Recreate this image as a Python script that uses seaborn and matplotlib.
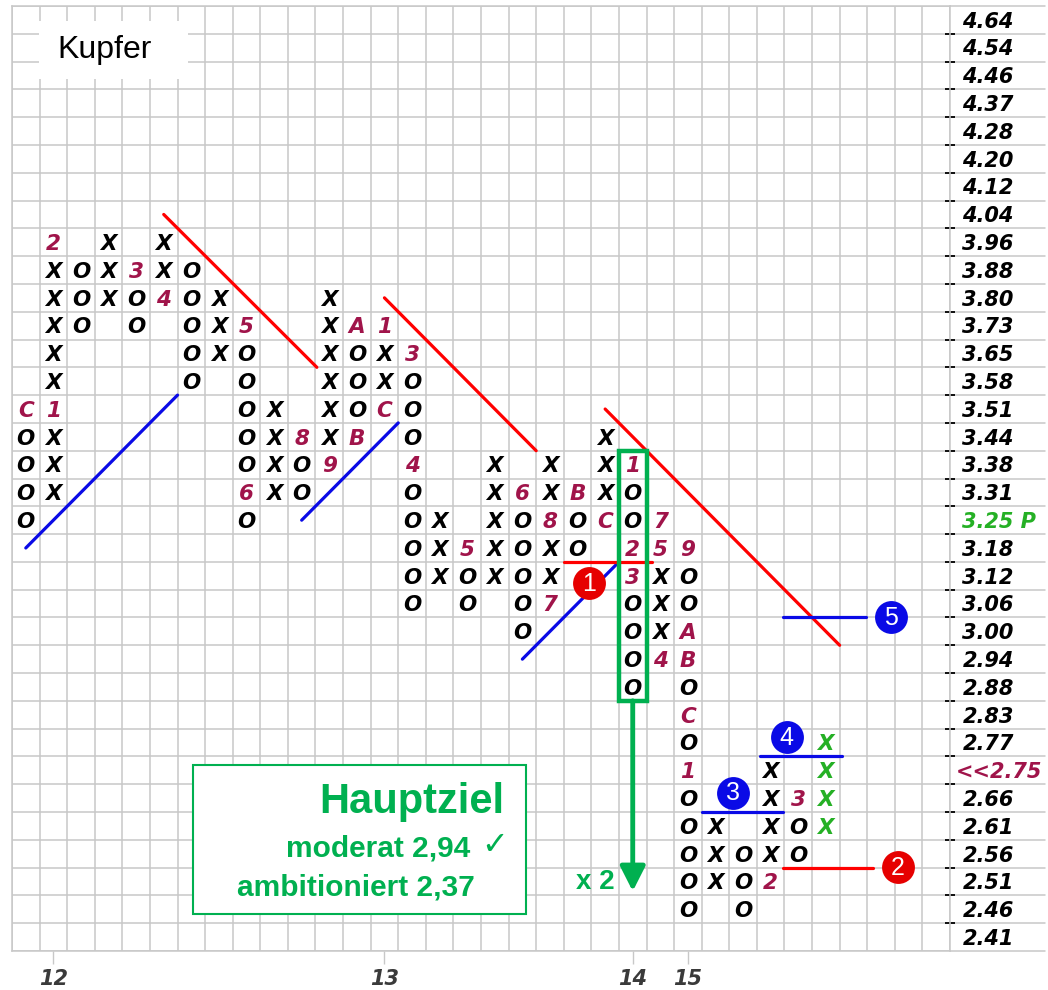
import matplotlib
matplotlib.use("Agg")
import matplotlib.pyplot as plt
import seaborn as sns
import numpy as np
import pandas as pd
from matplotlib.patches import Rectangle

# ---------------- data ----------------
price_labels = ['4.64', '4.54', '4.46', '4.37', '4.28', '4.20', '4.12', '4.04',
                '3.96', '3.88', '3.80', '3.73', '3.65', '3.58', '3.51', '3.44',
                '3.38', '3.31', '3.25 P', '3.18', '3.12', '3.06', '3.00', '2.94',
                '2.88', '2.83', '2.77', '<<2.75', '2.66', '2.61', '2.56', '2.51',
                '2.46', '2.41']

# point & figure columns: type, top row index, bottom row index (row 0 = 4.64)
col_type = ['O', 'X', 'O', 'X', 'O', 'X', 'O', 'X', 'O', 'X', 'O', 'X', 'O', 'X', 'O',
            'X', 'O', 'X', 'O', 'X', 'O', 'X', 'O', 'X', 'O', 'X', 'O', 'X', 'O', 'X']
col_top = [14, 8, 9, 8, 9, 8, 9, 10, 11, 14, 15, 10, 11, 11, 12,
           18, 19, 16, 17, 16, 17, 15, 16, 18, 19, 29, 30, 27, 28, 26]
col_bottom = [18, 17, 11, 10, 11, 10, 13, 12, 18, 17, 17, 16, 15, 14, 21,
              20, 21, 20, 22, 21, 19, 18, 24, 23, 32, 31, 32, 31, 30, 29]
green_col = 29

# month markers replacing boxes
month_col = [0, 1, 1, 4, 5, 8, 8, 10, 11, 12, 12, 13, 13, 14, 14, 16, 18, 19, 19,
             20, 21, 22, 22, 22, 23, 23, 23, 24, 24, 24, 24, 24, 27, 28]
month_row = [14, 14, 8, 9, 10, 11, 17, 15, 16, 11, 15, 14, 11, 12, 16, 19, 17, 18, 21,
             17, 18, 16, 19, 20, 18, 19, 23, 19, 22, 23, 25, 27, 31, 28]
month_txt = ['C', '1', '2', '3', '4', '5', '6', '8', '9', 'A', 'B', 'C', '1', '3', '4',
             '5', '6', '8', '7', 'B', 'C', '1', '2', '3', '7', '5', '4', '9', 'A', 'B',
             'C', '1', '2', '3']

year_labels = ['12', '13', '14', '15']
year_cols = [1, 13, 22, 24]

# trend lines (start/end in column/row units)
trend_x0 = [0.0, 5.0, 10.0, 13.0, 18.0, 21.0]
trend_y0 = [19.0, 7.0, 18.0, 10.0, 23.0, 14.0]
trend_x1 = [5.5, 10.55, 13.5, 18.5, 21.5, 29.5]
trend_y1 = [13.5, 12.5, 14.5, 15.5, 19.5, 22.5]
trend_kind = ['support', 'resist', 'support', 'resist', 'support', 'resist']

# signal levels
level_x0 = [19.5, 27.45, 24.5, 26.6, 27.45]
level_x1 = [22.7, 30.7, 27.45, 29.6, 30.45]
level_y = [19.5, 30.5, 28.5, 26.5, 21.5]
level_kind = ['resist', 'resist', 'support', 'support', 'support']
marker_num = ['1', '2', '3', '4', '5']
marker_x = [20.42, 31.6, 25.62, 27.58, 31.35]
marker_y = [20.25, 30.47, 27.8, 25.8, 21.5]

# ---------------- style ----------------
sns.set_theme(style="white")
plt.rcParams['font.family'] = ['DejaVu Sans']

RED = '#FF0000'
BLUE = '#0A0AE6'
GREEN = '#00B050'
LGREEN = '#25B025'
MONTH = '#A0144A'
GRID = '#C8C8C8'

fig = plt.figure(figsize=(10.48, 9.90), dpi=100)
ax = fig.add_axes([12 / 1048, 1 - 951 / 990, 938 / 1048, 945 / 990])
ax.set_xlim(-0.5, 33.5)
ax.set_ylim(33.5, -0.5)
ax.set_facecolor('white')

# grid
for xb in np.arange(-0.5, 34, 1):
    ax.axvline(xb, color=GRID, lw=1.1, zorder=0)
for yb in np.arange(-0.5, 34, 1):
    ax.axhline(yb, color=GRID, lw=1.1, zorder=0)
    ax.plot([33.5, 36.95], [yb, yb], color=GRID, lw=1.1, clip_on=False, zorder=0)
for s in ax.spines.values():
    s.set_color(GRID)
    s.set_linewidth(1.1)

# boxes
month_lookup = {(c, r): t for c, r, t in zip(month_col, month_row, month_txt)}
rows = []
for c, (t, top, bot) in enumerate(zip(col_type, col_top, col_bottom)):
    for r in range(top, bot + 1):
        lab = month_lookup.get((c, r), t)
        rows.append(dict(col=c, row=r, label=lab,
                         kind='month' if (c, r) in month_lookup else t))
boxes = pd.DataFrame(rows)

for _, b in boxes.iterrows():
    if b['kind'] == 'month':
        color = MONTH
    else:
        color = LGREEN if b['col'] == green_col else 'black'
    ax.text(b['col'], b['row'] + 0.28, b['label'], ha='center', va='baseline',
            fontsize=15.5, style='italic', fontweight='bold', color=color, zorder=3)

# trend lines via seaborn
for x0, y0, x1, y1, k in zip(trend_x0, trend_y0, trend_x1, trend_y1, trend_kind):
    sns.lineplot(x=[x0, x1], y=[y0, y1], ax=ax, color=RED if k == 'resist' else BLUE,
                 lw=2.3, sort=False, zorder=4)
for x0, x1, y, k in zip(level_x0, level_x1, level_y, level_kind):
    sns.lineplot(x=[x0, x1], y=[y, y], ax=ax, color=RED if k == 'resist' else BLUE,
                 lw=2.3, sort=False, zorder=4)
for n, x, y, k in zip(marker_num, marker_x, marker_y, level_kind):
    ax.scatter([x], [y], s=560, color='#E60000' if k == 'resist' else BLUE,
               zorder=5, clip_on=False, linewidths=0)
    ax.text(x, y + 0.03, n, ha='center', va='center', color='white', fontsize=18,
            family='Liberation Sans', zorder=6)

# green count box and arrow
ax.add_patch(Rectangle((21.5, 15.5), 1, 9, fill=False, ec=GREEN, lw=3.2, zorder=6))
ax.annotate('', xy=(22, 31.35), xytext=(22, 24.5),
            arrowprops=dict(arrowstyle='-|>,head_length=0.75,head_width=0.38',
                            mutation_scale=20, color=GREEN, lw=3.5, shrinkA=0, shrinkB=0),
            zorder=6)
ax.text(20.65, 31.0, 'x 2', ha='center', va='center', color=GREEN, fontsize=20,
        fontweight='bold', family='Liberation Sans', zorder=6)

# target box
ax.add_patch(Rectangle((6.06, 26.8), 12.06, 5.36, fc='white', ec=GREEN, lw=1.5, zorder=6))
ax.text(17.36, 28.13, 'Hauptziel', ha='right', va='center', color=GREEN, fontsize=30,
        fontweight='bold', family='Liberation Sans', zorder=7)
ax.text(16.1, 29.8, 'moderat 2,94', ha='right', va='center', color=GREEN, fontsize=21.5,
        fontweight='bold', family='Liberation Sans', zorder=7)
ax.text(17.0, 29.72, '\u2713', ha='center', va='center', color=GREEN, fontsize=23,
        family=['DejaVu Sans'], zorder=7)
ax.text(16.28, 31.2, 'ambitioniert 2,37', ha='right', va='center', color=GREEN,
        fontsize=21.5, fontweight='bold', family='Liberation Sans', zorder=7)

# title box
ax.add_patch(Rectangle((0.48, 0.04), 5.4, 2.09, fc='white', ec='none', zorder=2))
ax.text(2.87, 1.1, 'Kupfer', ha='center', va='center', color='black', fontsize=23,
        family='Liberation Sans', zorder=3)

# right price scale
ax.yaxis.tick_right()
ax.set_yticks(np.arange(0.5, 33, 1))
ax.set_yticklabels([])
ax.tick_params(axis='y', which='major', right=True, left=False, length=7, width=1.3,
               color='black', direction='inout')
for i, lab in enumerate(price_labels):
    color = 'black'
    xoff = 0.45
    if lab.startswith('3.25'):
        color = LGREEN
    if lab.startswith('<<'):
        color = MONTH
        xoff = 0.22
    ax.text(33.5 + xoff, i + 0.28, lab, ha='left', va='baseline', fontsize=15,
            fontweight='bold', style='italic', color=color, clip_on=False)

# bottom year axis
ax.set_xticks(year_cols)
ax.set_xticklabels(year_labels, fontsize=15, fontweight='bold', style='italic',
                   color='#3A3A3A')
ax.tick_params(axis='x', which='major', bottom=True, length=9, width=1, color=GRID,
               pad=4)
ax.set_xlabel('')
ax.set_ylabel('')

fig.savefig('out.png', dpi=100, facecolor='white')
